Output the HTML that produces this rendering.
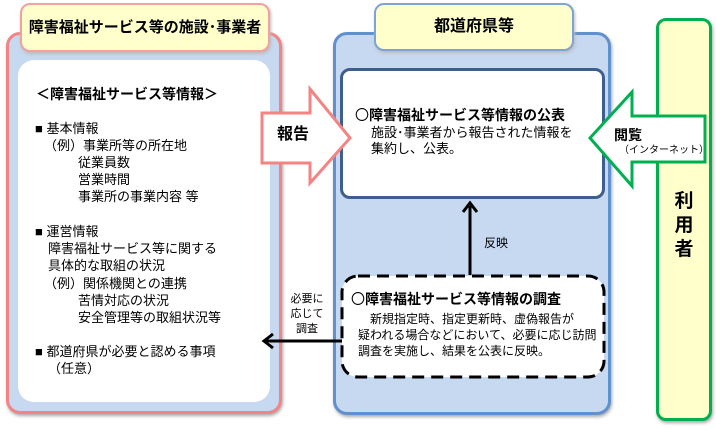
<!DOCTYPE html>
<html><head><meta charset="utf-8"><style>
*{margin:0;padding:0;box-sizing:border-box}
body{width:716px;height:430px;background:#fff;position:relative;overflow:hidden;font-family:"Liberation Sans","Noto Sans CJK JP",sans-serif;color:#000}
.a{position:absolute;white-space:nowrap}
.t{position:absolute;white-space:nowrap;font-size:13px;line-height:16px}
.b{font-weight:bold}
.c{font-family:"Noto Sans CJK JP",sans-serif;font-weight:normal}
</style></head><body>
<!-- user -->
<div class="a" style="left:656px;top:18px;width:56px;height:403px;background:#ffffcc;border:3px solid #00b050;border-radius:10px;box-shadow:1px 2px 3px #aaa"></div>
<div class="a b" style="left:656px;top:190px;width:56px;font-size:19px;line-height:24px;text-align:center">利<br>用<br>者</div>
<!-- left panel -->
<div class="a" style="left:6px;top:32px;width:276px;height:382px;background:#c6d9f1;border:3px solid #f48383;border-radius:14px;box-shadow:1px 2px 3px #aaa"></div>
<div class="a" style="left:18px;top:60px;width:252px;height:342px;background:#fff;border-radius:16px"></div>
<div class="a b" style="left:20px;top:3px;width:250px;height:49px;background:#ffffcc;border:2px solid #f2a0a0;border-radius:10px;font-size:15px;line-height:45px;text-align:center;box-shadow:1px 2px 3px #bbb">障害福祉サービス等の施設･事業者</div>
<div class="t b" style="left:36px;top:86px;font-size:14px">＜障害福祉サービス等情報＞</div>
<div class="t" style="left:35px;top:121px">■ 基本情報</div>
<div class="t" style="left:44px;top:138px">（例）事業所等の所在地</div>
<div class="t" style="left:78px;top:155px">従業員数</div>
<div class="t" style="left:78px;top:172px">営業時間</div>
<div class="t" style="left:78px;top:189px">事業所の事業内容 等</div>
<div class="t" style="left:35px;top:224px">■ 運営情報</div>
<div class="t" style="left:48px;top:241px">障害福祉サービス等に関する</div>
<div class="t" style="left:48px;top:258px">具体的な取組の状況</div>
<div class="t" style="left:44px;top:276px">（例）関係機関との連携</div>
<div class="t" style="left:78px;top:293px">苦情対応の状況</div>
<div class="t" style="left:78px;top:310px">安全管理等の取組状況等</div>
<div class="t" style="left:35px;top:344px">■ 都道府県が必要と認める事項</div>
<div class="t" style="left:48px;top:361px">（任意）</div>

<!-- middle panel -->
<div class="a" style="left:333px;top:32px;width:278px;height:383px;background:#c6d9f1;border:3px solid #5f91d0;border-radius:14px;box-shadow:1px 2px 3px #aaa"></div>
<div class="a b" style="left:374px;top:3px;width:200px;height:48px;background:#ffffcc;border:2px solid #7ea3d6;border-radius:10px;font-size:16px;line-height:44px;text-align:center;box-shadow:1px 2px 3px #bbb">都道府県等</div>
<div class="a" style="left:340px;top:68px;width:265px;height:131px;background:#fff;border:3px solid #3d5e8e;border-radius:10px"></div>
<div class="t b" style="left:355px;top:107px;font-size:14px"><span class="c">〇</span>障害福祉サービス等情報の公表</div>
<div class="t" style="left:371px;top:125px">施設･事業者から報告された情報を</div>
<div class="t" style="left:371px;top:141px">集約し、公表。</div>

<svg class="a" style="left:0;top:0" width="716" height="430">
 <polygon points="262,113 310,113 310,89 350,138 310,183 310,163 262,163" fill="#fff" stroke="#f48383" stroke-width="3"/>
 <polygon points="705,116 632,116 632,92 590,138 632,186 632,162 705,162" fill="#fff" stroke="#00b050" stroke-width="3"/>
 <line x1="470" y1="275" x2="470" y2="206" stroke="#000" stroke-width="3"/>
 <polyline points="463,212 470,203 477,212" fill="none" stroke="#000" stroke-width="3"/>
 <line x1="342" y1="341" x2="264" y2="341" stroke="#000" stroke-width="3"/>
 <polyline points="273,334 264,341 273,348" fill="none" stroke="#000" stroke-width="3"/>
 <rect x="342" y="276" width="262" height="101" rx="16" fill="#fff" stroke="#000" stroke-width="3" stroke-dasharray="12,7"/>
</svg>
<div class="t b" style="left:277px;top:127px;font-size:16px">報告</div>
<div class="t b" style="left:614px;top:127px;font-size:14px">閲覧</div>
<div class="t" style="left:619px;top:143px;font-size:10px">（インターネット）</div>
<div class="t" style="left:484px;top:235px;font-size:12px">反映</div>
<div class="a" style="left:286px;top:292px;width:42px;font-size:11px;line-height:15px;text-align:center">必要に<br>応じて<br>調査</div>
<div class="t b" style="left:351px;top:291px;font-size:14px"><span class="c">〇</span>障害福祉サービス等情報の調査</div>
<div class="t" style="left:358px;top:311px;font-size:12px;line-height:16px">　新規指定時、指定更新時、虚偽報告が<br>疑われる場合などにおいて、必要に応じ訪問<br>調査を実施し、結果を公表に反映。</div>
</body></html>
